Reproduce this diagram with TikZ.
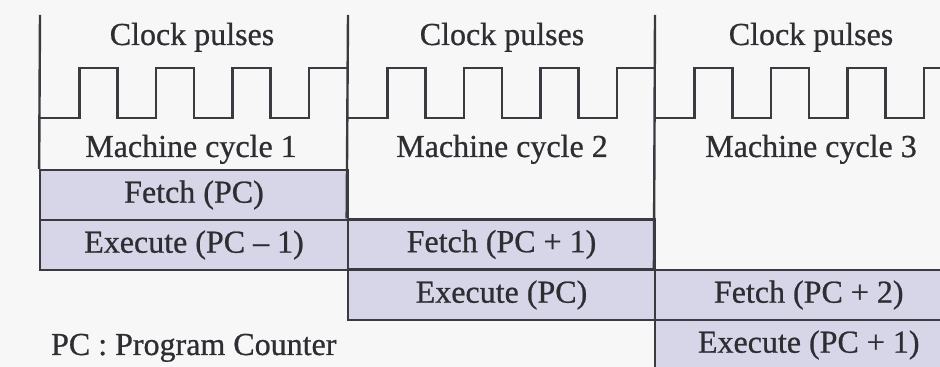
\documentclass[tikz,border=0pt]{standalone}
\usepackage{fontspec}
\setmainfont{Liberation Serif}
\newfontfamily\lblfont{Liberation Serif}[FakeBold=0.7]
\definecolor{ln}{RGB}{58,58,64}
\definecolor{sh}{RGB}{214,214,232}
\definecolor{bg}{RGB}{247,247,247}
\definecolor{txt}{RGB}{45,45,50}
\begin{document}
\begin{tikzpicture}[x=0.5pt,y=-0.5pt,line width=1.1pt,
  lbl/.style={font=\lblfont\fontsize{16}{19}\selectfont,text=txt,inner sep=0pt},
  stage/.style={draw=ln,fill=sh,font=\lblfont\fontsize{16}{19}\selectfont,text=txt,
    inner sep=0pt,minimum width=153.75pt,minimum height=25pt},
  rule/.style={draw=ln,line width=1.2pt},
  wave/.style={draw=ln,line width=1.1pt,line join=miter}]
\useasboundingbox (0,0) rectangle (940,367);
\clip (0,0) rectangle (940,367);
\fill[bg] (0,0) rectangle (940,367);

% stage rows
\node[stage] (f1) at (194,195)   {Fetch (PC)};
\node[stage] (e1) at (194,245)   {Execute (PC \textendash{} 1)};
\node[stage] (f2) at (501.5,244.5) {Fetch (PC + 1)};
\node[stage] (e2) at (501.5,295) {Execute (PC)};
\node[stage] (f3) at (808.75,295) {Fetch (PC + 2)};
\node[stage] (e3) at (808.75,345) {Execute (PC + 1)};

% cell boundaries
\coordinate (t1) at (40,15);
\coordinate (t2) at (348,15);
\coordinate (t3) at (655,15);
\draw[rule] (t1) -- (f1.north west);
\draw[rule] (t2) -- (f2.north west);
\draw[rule] (t3) -- (f3.north west);

% clock waveforms
\foreach \s in {40,348,655}{
  \draw[wave] (\s,118)
    -- ++(39.5,0) -- ++(0,-50) -- ++(38,0) -- ++(0,50)
    -- ++(38.5,0) -- ++(0,-50) -- ++(38,0) -- ++(0,50)
    -- ++(38.5,0) -- ++(0,-50) -- ++(38,0) -- ++(0,50)
    -- ++(38.5,0) -- ++(0,-50) -- ++(38.5,0);
}

% labels
\node[lbl,anchor=base] (c1) at (192,45) {Clock pulses};
\node[lbl,anchor=base] (c2) at (502,45) {Clock pulses};
\node[lbl,anchor=base] (c3) at (811,45) {Clock pulses};
\node[lbl,anchor=base] (m1) at (191,157) {Machine cycle 1};
\node[lbl,anchor=base] (m2) at (502,157) {Machine cycle 2};
\node[lbl,anchor=base] (m3) at (811,157) {Machine cycle 3};
\node[lbl,anchor=base west] (pc) at (50,355) {PC : Program Counter};
\end{tikzpicture}
\end{document}
